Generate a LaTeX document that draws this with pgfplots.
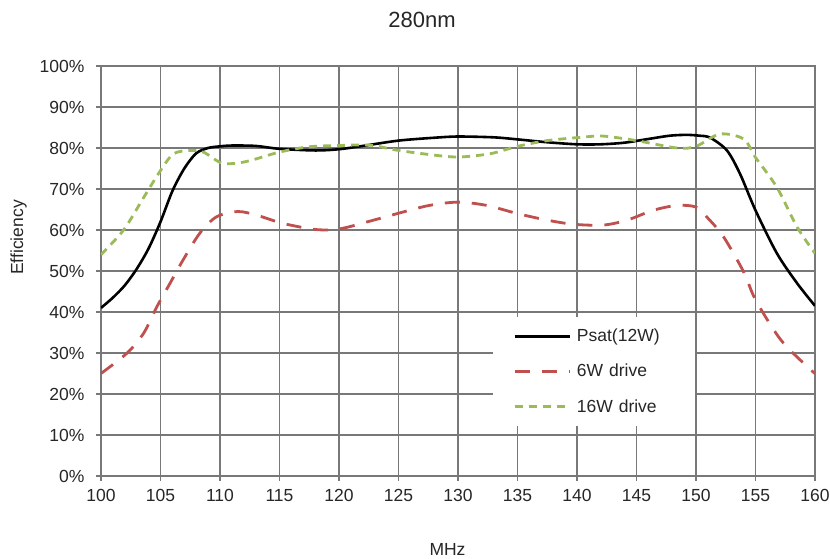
\documentclass[border=0pt]{standalone}
\usepackage{pgfplots}
\pgfplotsset{compat=1.18}
\usepackage{fontspec}
\setmainfont{Liberation Sans}
\definecolor{gridc}{RGB}{120,120,120}
\definecolor{redc}{RGB}{192,80,77}
\definecolor{greenc}{RGB}{155,187,89}
\begin{document}
\begin{tikzpicture}
\begin{axis}[
  name=ax,
  scale only axis, width=714pt, height=410pt,
  xmin=100, xmax=160, ymin=0, ymax=100,
  xtick={100,105,...,160}, ytick={0,10,...,100},
  yticklabel={\pgfmathprintnumber{\tick}\%},
  /pgf/number format/assume math mode=true,
  grid=major, grid style={gridc, line width=1.6pt},
  axis line style={gridc, line width=1.6pt},
  tick style={gridc, line width=1.6pt},
  tick align=outside, major tick length=5pt,
  xtick pos=bottom, ytick pos=left,
  ticklabel style={font=\fontsize{17.5}{21}\selectfont, text=black!85},
  yticklabel style={xshift=-8pt},
  xticklabel style={yshift=-5pt},
  title={280nm},
  title style={font=\fontsize{22}{26}\selectfont, text=black!85, at={(axis description cs:0.5,1)}, anchor=center, xshift=-36pt, yshift=40pt},
  xlabel={MHz},
  xlabel style={font=\fontsize{17.5}{21}\selectfont, text=black!85, at={(axis description cs:0.5,0)}, anchor=center, xshift=-10.5pt, yshift=-73pt},
  ylabel={Efficiency},
  ylabel style={font=\fontsize{17.5}{21}\selectfont, text=black!85, at={(axis description cs:0,0.5)}, anchor=center, xshift=33.5pt, yshift=82.3pt},
  legend cell align=left,
  legend image code/.code={\draw[#1] (0pt,0pt) -- (55pt,0pt);},
  legend style={at={(rel axis cs:0.549,0.388)}, anchor=north west, draw=none, fill=white,
    inner xsep=20pt, inner ysep=10pt, row sep=17pt,
    font=\fontsize{17.5}{21}\selectfont, text=black!85,
    /tikz/every odd column/.append style={column sep=4pt},
    /tikz/every even column/.append style={text width=96pt}},
]
\addplot[black, line width=2.6pt, smooth, tension=0.5] coordinates {
(100,41) (101,43.5) (102,46.5) (103,50.5) (104,55.5) (105,62) (106,69.5) (107,75) (108,78.7) (109,80) (110,80.4) (111,80.6) (113,80.5) (115,79.8) (118,79.4) (120,79.7) (122,80.5) (125,81.8) (128,82.5) (130,82.8) (133,82.6) (135,82.1) (137.5,81.4) (140,80.9) (142,80.9) (144,81.3) (146,82.2) (147.8,83) (149.2,83.2) (150.3,83) (151.2,82.5) (152.6,79.4) (153.7,73.7) (155,64.8) (156.8,54.3) (158.5,47) (160,41.5)
};
\addlegendentry{Psat(12W)}
\addplot[redc, line width=2.8pt, smooth, tension=0.5, dash pattern=on 15pt off 12pt] coordinates {
(100,25) (102.2,30) (103.6,34.9) (104.7,41.3) (105.8,47) (106.9,52.7) (108.3,59.2) (109.7,63.2) (111.5,64.5) (113.1,63.6) (115.3,61.6) (118.1,60.1) (120.1,60.3) (122.9,62.4) (125.4,64.4) (127.6,66) (130,66.8) (132.4,66) (135,64) (137.5,62.4) (139.7,61.4) (142.2,61.2) (144.2,62.4) (146.4,64.8) (148.4,66) (150,65.6) (150.9,63.2) (152.3,58.4) (154,49.8) (155,43) (157.1,33.3) (159.3,26.8) (160,25)
};
\addlegendentry{6W drive}
\addplot[greenc, line width=2.8pt, smooth, tension=0.5, dash pattern=on 8pt off 6pt] coordinates {
(100,54) (101.9,60) (103.6,68) (105,74.5) (106.1,78.6) (107.5,79.4) (108.6,79) (110,76.5) (111.1,76.2) (112.5,76.9) (115,79) (117.5,80.3) (120,80.6) (122.6,80.7) (124.8,79.5) (127.6,78.4) (130,77.8) (132.7,78.6) (135,80.4) (137.5,81.8) (140.3,82.6) (142.2,82.9) (145,81.8) (148.4,80) (150,80.4) (152,83.4) (154,82.2) (155,77.7) (156.8,70.4) (158.5,60.7) (160,54.3)
};
\addlegendentry{16W drive}
\end{axis}
\pgfresetboundingbox
\path (ax.south west) ++(-101pt,-83pt) rectangle ++(830pt,559pt);
\end{tikzpicture}
\end{document}
